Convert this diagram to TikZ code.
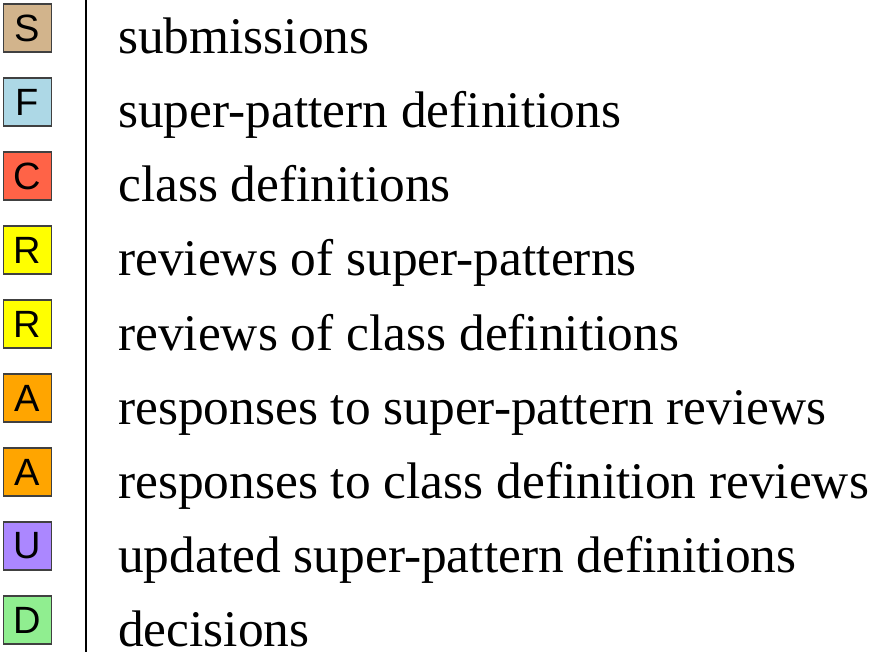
\documentclass[tikz,border=0pt]{standalone}
\usepackage{fontspec}
\setmainfont{Liberation Serif}
\newfontfamily\keyfont{Liberation Sans}
\usetikzlibrary{calc,positioning}
\definecolor{keyline}{HTML}{404040}
\definecolor{keytan}{HTML}{D2B48C}
\definecolor{keyblue}{HTML}{ADD8E6}
\definecolor{keytomato}{HTML}{FF6347}
\definecolor{keyyellow}{HTML}{FFFF00}
\definecolor{keyorange}{HTML}{FFA500}
\definecolor{keypurple}{HTML}{AB87FF}
\definecolor{keygreen}{HTML}{90EE90}
\tikzset{
  keybox/.style={
    draw=keyline,
    line width=1.3pt,
    minimum size=48pt,
    inner sep=0pt,
    outer sep=0pt,
    font=\keyfont\fontsize{38}{42}\selectfont
  },
  keytext/.style={
    anchor=base west,
    inner sep=0pt,
    font=\fontsize{51.4}{60}\selectfont
  },
  divider/.style={line width=2pt, draw=black}
}

\begin{document}
\begin{tikzpicture}[x=1pt, y=1pt, node distance=26pt]
  \useasboundingbox (0,0) rectangle (870,-652);

  \node[keybox, fill=keytan] (subm) at (27.5,-28) {S};
  \node[keybox, fill=keyblue, below=of subm] (spdef) {F};
  \node[keybox, fill=keytomato, below=of spdef] (cldef) {C};
  \node[keybox, fill=keyyellow, below=of cldef] (sprev) {R};
  \node[keybox, fill=keyyellow, below=of sprev] (clrev) {R};
  \node[keybox, fill=keyorange, below=of clrev] (spresp) {A};
  \node[keybox, fill=keyorange, below=of spresp] (clresp) {A};
  \node[keybox, fill=keypurple, below=of clresp] (spupd) {U};
  \node[keybox, fill=keygreen, below=of spupd] (decis) {D};

  \draw[divider] (85.5,0) -- (85.5,-652);

  \node[keytext] (subml) at ($(subm.east)+(66.5,-26)$) {submissions};
  \node[keytext] (spdefl) at ($(spdef.east)+(66.5,-26)$) {super-pattern definitions};
  \node[keytext] (cldefl) at ($(cldef.east)+(66.5,-26)$) {class definitions};
  \node[keytext] (sprevl) at ($(sprev.east)+(66.5,-26)$) {reviews of super-patterns};
  \node[keytext] (clrevl) at ($(clrev.east)+(66.5,-26)$) {reviews of class definitions};
  \node[keytext] (sprespl) at ($(spresp.east)+(66.5,-26)$) {responses to super-pattern reviews};
  \node[keytext] (clrespl) at ($(clresp.east)+(66.5,-26)$) {responses to class definition reviews};
  \node[keytext] (spupdl) at ($(spupd.east)+(66.5,-26)$) {updated super-pattern definitions};
  \node[keytext] (decisl) at ($(decis.east)+(66.5,-26)$) {decisions};
\end{tikzpicture}
\end{document}
